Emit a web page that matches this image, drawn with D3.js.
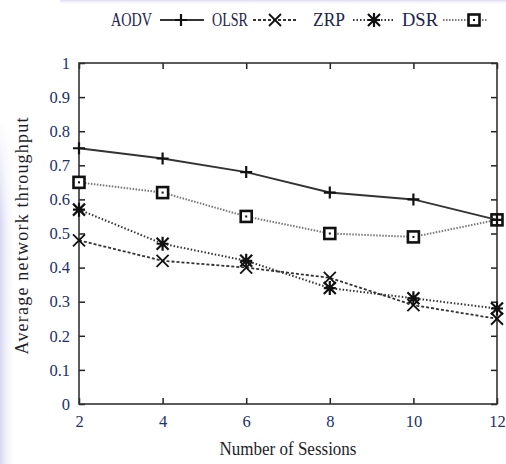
<!DOCTYPE html>
<html>
<head>
<meta charset="utf-8">
<script src="https://cdn.jsdelivr.net/npm/d3@7"></script>
<style>
  body { margin: 0; background: #fff; }
  svg { display: block; }
</style>
</head>
<body>
<div id="chart"></div>
<script>
// data
var sessions = [2, 4, 6, 8, 10, 12];
var aodv = [0.75, 0.72, 0.68, 0.62, 0.60, 0.54];
var olsr = [0.48, 0.42, 0.40, 0.37, 0.29, 0.25];
var zrp  = [0.57, 0.47, 0.42, 0.34, 0.31, 0.28];
var dsr  = [0.65, 0.62, 0.55, 0.50, 0.49, 0.54];
var yTicks = [0, 0.1, 0.2, 0.3, 0.4, 0.5, 0.6, 0.7, 0.8, 0.9, 1];
var seriesNames = ["AODV", "OLSR", "ZRP", "DSR"];

var W = 506, H = 464;
var svg = d3.select("#chart").append("svg")
		.attr("width", W)
		.attr("height", H);

// faint tinted edges like the scan
var defs = svg.append("defs");
var lg = defs.append("linearGradient").attr("id", "leftEdge")
		.attr("x1", 0).attr("x2", 1).attr("y1", 0).attr("y2", 0);
lg.append("stop").attr("offset", 0).attr("stop-color", "#d6d6f2");
lg.append("stop").attr("offset", 1).attr("stop-color", "#ffffff").attr("stop-opacity", 0);
var lv = defs.append("linearGradient").attr("id", "leftFade")
		.attr("x1", 0).attr("x2", 0).attr("y1", 0).attr("y2", 1);
lv.append("stop").attr("offset", 0).attr("stop-color", "#fff").attr("stop-opacity", 0);
lv.append("stop").attr("offset", 0.3).attr("stop-color", "#fff").attr("stop-opacity", 1);
var mask = defs.append("mask").attr("id", "leftMask");
mask.append("rect").attr("x", 0).attr("y", 120).attr("width", 16).attr("height", H - 120)
		.attr("fill", "url(#leftFade)");
var tg = defs.append("linearGradient").attr("id", "topEdge")
		.attr("x1", 0).attr("x2", 0).attr("y1", 0).attr("y2", 1);
tg.append("stop").attr("offset", 0).attr("stop-color", "#dcdaf3");
tg.append("stop").attr("offset", 1).attr("stop-color", "#ffffff").attr("stop-opacity", 0);
svg.append("rect").attr("x", 0).attr("y", 120).attr("width", 16).attr("height", H - 120)
		.attr("fill", "url(#leftEdge)").attr("mask", "url(#leftMask)");
svg.append("rect").attr("x", 60).attr("y", 0).attr("width", W - 60).attr("height", 5)
		.attr("fill", "url(#topEdge)");

// plot box (window.top is reserved, so prefixed names)
var pLeft = 79, pRight = 497, pTop = 63, pBottom = 404;
var x = d3.scaleLinear().domain([2, 12]).range([pLeft, pRight]);
var y = d3.scaleLinear().domain([0, 1]).range([pBottom, pTop]);

var tickColor = "#22306c";
var serif = "'Liberation Serif', 'DejaVu Serif', serif";

// axes (ticks inside, mirrored on top / right)
var yAxisL = d3.axisLeft(y).tickValues(yTicks).tickSizeInner(-6).tickSizeOuter(0)
		.tickFormat(function(d) { return d === 0 || d === 1 ? d3.format("d")(d) : d3.format(".1f")(d); })
		.tickPadding(9);
var yAxisR = d3.axisRight(y).tickValues(yTicks).tickSizeInner(-6).tickSizeOuter(0).tickFormat("");
var xAxisB = d3.axisBottom(x).tickValues(sessions).tickSizeInner(-6).tickSizeOuter(0).tickPadding(11);
var xAxisT = d3.axisTop(x).tickValues(sessions).tickSizeInner(-6).tickSizeOuter(0).tickFormat("");

function styleAxis(g) {
	g.select(".domain").remove();
	g.selectAll(".tick line").attr("stroke", "#222").attr("stroke-width", 1.5);
	g.selectAll(".tick text")
		.attr("fill", tickColor)
		.style("font-family", serif)
		.style("font-size", "16.5px");
}

svg.append("g").attr("transform", "translate(" + pLeft + ",0)").call(yAxisL).call(styleAxis);
svg.append("g").attr("transform", "translate(" + pRight + ",0)").call(yAxisR).call(styleAxis);
svg.append("g").attr("transform", "translate(0," + pBottom + ")").call(xAxisB).call(styleAxis);
svg.append("g").attr("transform", "translate(0," + pTop + ")").call(xAxisT).call(styleAxis);

// frame
svg.append("rect")
		.attr("x", pLeft).attr("y", pTop)
		.attr("width", pRight - pLeft).attr("height", pBottom - pTop)
		.attr("fill", "none").attr("stroke", "#333").attr("stroke-width", 1.6);

// axis titles
svg.append("text")
		.attr("x", 288).attr("y", 455)
		.attr("text-anchor", "middle")
		.attr("textLength", 137).attr("lengthAdjust", "spacingAndGlyphs")
		.style("font-family", serif).style("font-size", "19px")
		.attr("fill", "#1e1e2a")
		.text("Number of Sessions");
svg.append("text")
		.attr("transform", "translate(28,236) rotate(-90)")
		.attr("text-anchor", "middle")
		.attr("textLength", 237).attr("lengthAdjust", "spacing")
		.style("font-family", serif).style("font-size", "18px")
		.attr("fill", "#1e1e2a")
		.text("Average network throughput");

// series styles
var styles = {
	AODV: { vals: aodv, dash: null, color: "#333", width: 2, marker: "plus" },
	OLSR: { vals: olsr, dash: "3,2", color: "#333", width: 1.8, marker: "cross" },
	ZRP:  { vals: zrp,  dash: "1.5,2", color: "#333", width: 2, marker: "star" },
	DSR:  { vals: dsr,  dash: "1.5,1.5", color: "#777", width: 2, marker: "square" }
};

var line = d3.line()
		.x(function(d, i) { return x(sessions[i]); })
		.y(function(d) { return y(d); });

function drawMarker(g, type, cx, cy) {
	var s = 6;
	if (type == "plus") {
		g.append("path").attr("d", "M" + (cx - s) + "," + cy + "H" + (cx + s) + "M" + cx + "," + (cy - s) + "V" + (cy + s))
			.attr("stroke", "#111").attr("stroke-width", 2.2).attr("fill", "none");
	}
	else if (type == "cross") {
		g.append("path").attr("d", "M" + (cx - s) + "," + (cy - s) + "L" + (cx + s) + "," + (cy + s) +
				"M" + (cx - s) + "," + (cy + s) + "L" + (cx + s) + "," + (cy - s))
			.attr("stroke", "#111").attr("stroke-width", 1.8).attr("fill", "none");
	}
	else if (type == "star") {
		g.append("path").attr("d", "M" + (cx - s) + "," + (cy - s) + "L" + (cx + s) + "," + (cy + s) +
				"M" + (cx - s) + "," + (cy + s) + "L" + (cx + s) + "," + (cy - s) +
				"M" + cx + "," + (cy - s - 1) + "V" + (cy + s + 1) +
				"M" + (cx - s) + "," + cy + "H" + (cx + s))
			.attr("stroke", "#111").attr("stroke-width", 2.2).attr("fill", "none");
	}
	else if (type == "square") {
		g.append("rect").attr("x", cx - 5.5).attr("y", cy - 5.5).attr("width", 11).attr("height", 11)
			.attr("stroke", "#111").attr("stroke-width", 2.6).attr("fill", "#fff");
		g.append("rect").attr("x", cx - 1).attr("y", cy - 1).attr("width", 2).attr("height", 2)
			.attr("fill", "#111");
	}
}

var plot = svg.append("g");
// draw DSR first so AODV plus ends up on top of its square at 12
["DSR", "ZRP", "OLSR", "AODV"].forEach(function(name) {
	var st = styles[name];
	plot.append("path")
		.datum(st.vals)
		.attr("d", line)
		.attr("fill", "none")
		.attr("stroke", st.color)
		.attr("stroke-width", st.width)
		.attr("stroke-dasharray", st.dash);
	st.vals.forEach(function(v, i) {
		drawMarker(plot, st.marker, x(sessions[i]), y(v));
	});
});

// legend
var legendText = { AODV: [111, 41], OLSR: [212, 36], ZRP: [313, 32], DSR: [402, 36] };
var legendLine = { AODV: [160, 204, 181], OLSR: [253, 298, 275], ZRP: [353, 393, 374], DSR: [443, 487, 474] };
var legend = svg.append("g");
seriesNames.forEach(function(name) {
	var st = styles[name];
	legend.append("text")
		.attr("x", legendText[name][0]).attr("y", 26)
		.attr("textLength", legendText[name][1]).attr("lengthAdjust", "spacingAndGlyphs")
		.style("font-family", serif).style("font-size", "19px")
		.attr("fill", "#1c2250")
		.text(name);
	var ll = legendLine[name];
	legend.append("line")
		.attr("x1", ll[0]).attr("x2", ll[1]).attr("y1", 20).attr("y2", 20)
		.attr("stroke", st.color).attr("stroke-width", st.width)
		.attr("stroke-dasharray", st.dash);
	drawMarker(legend, st.marker, ll[2], 20);
});
</script>
</body>
</html>
